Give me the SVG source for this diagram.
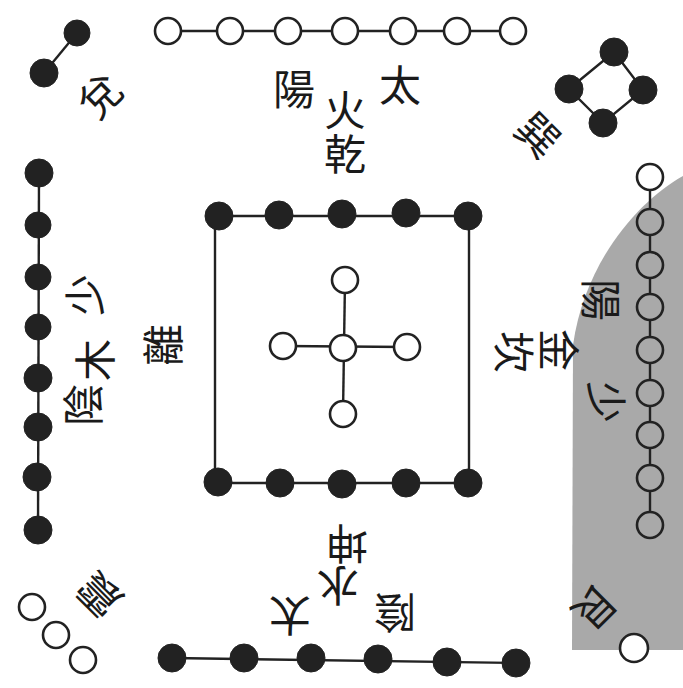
<svg xmlns="http://www.w3.org/2000/svg" width="683" height="688" viewBox="0 0 683 688">
<style>
.b{fill:#222;stroke:#222;stroke-width:1}
.w{fill:#fff;stroke:#222;stroke-width:2.6}
.wn{fill:none;stroke:#222;stroke-width:2.6}
.c{stroke:#222;stroke-width:2.4;fill:none}
.t{font-family:"Noto Sans CJK TC","Noto Sans CJK SC",serif;font-size:42px;fill:#1a1a1a;text-anchor:middle;dominant-baseline:central}
.v{font-family:"Noto Sans CJK TC","Noto Sans CJK SC",serif;font-size:42px;fill:#1a1a1a;writing-mode:vertical-rl;text-anchor:start;letter-spacing:2px}
</style>
<rect width="683" height="688" fill="#fff"/>
<path d="M683,176 C640,200 585,260 573,345 L572,650 L683,650 Z" fill="#a9a9a9"/>
<g id="connectors">
<line class="c" x1="77" y1="33" x2="44" y2="73"/>
<line class="c" x1="168" y1="31" x2="513" y2="31"/>
<path class="c" d="M569,89 L614,52 L643,90 L603,123 Z"/>
<line class="c" x1="39" y1="173" x2="38" y2="530"/>
<line class="c" x1="219" y1="216" x2="468" y2="216"/>
<line class="c" x1="218" y1="483" x2="468" y2="483"/>
<line class="c" x1="215" y1="216" x2="215" y2="483"/>
<line class="c" x1="469" y1="216" x2="469" y2="483"/>
<line class="c" x1="345" y1="280" x2="343" y2="414"/>
<line class="c" x1="283" y1="346" x2="407" y2="347"/>
<path class="c" d="M650,190 V209 M650,235 V252 M650,278 V294 M650,320 V337 M650,363 V380 M650,406 V422 M650,448 V465 M650,491 V512"/>
<line class="c" x1="172" y1="658" x2="516" y2="663"/>
</g>
<g id="dui"><circle class="b" cx="77" cy="33" r="13"/><circle class="b" cx="44" cy="73" r="14"/><text class="t" transform="translate(98,94) rotate(-45)">兌</text></g>
<g id="taiyang"><circle class="w" cx="168" cy="31" r="13"/><circle class="w" cx="230" cy="31" r="13"/><circle class="w" cx="288" cy="31" r="13"/><circle class="w" cx="345" cy="31" r="13"/><circle class="w" cx="403" cy="31" r="13"/><circle class="w" cx="457" cy="31" r="13"/><circle class="w" cx="513" cy="31" r="13"/>
<text class="t" x="294" y="86">陽</text><text class="t" x="400" y="82">太</text><text class="v" x="345" y="89">火乾</text></g>
<g id="xun"><circle class="b" cx="614" cy="52" r="14"/><circle class="b" cx="569" cy="89" r="14"/><circle class="b" cx="643" cy="90" r="14"/><circle class="b" cx="603" cy="123" r="14"/><text class="t" transform="translate(540,133) rotate(45)">巽</text></g>
<g id="shaoyin"><circle class="b" cx="39" cy="173" r="14"/><circle class="b" cx="38" cy="225" r="13"/><circle class="b" cx="38" cy="277" r="13"/><circle class="b" cx="38" cy="327" r="13"/><circle class="b" cx="38" cy="378" r="14"/><circle class="b" cx="38" cy="427" r="14"/><circle class="b" cx="37" cy="477" r="14"/><circle class="b" cx="38" cy="530" r="14"/>
<text class="t" transform="translate(82,295) rotate(-90)">少</text><text class="t" transform="translate(92,360) rotate(-90)">木</text><text class="t" transform="translate(160,345) rotate(-90)">離</text><text class="t" transform="translate(80,405) rotate(-90)">陰</text></g>
<g id="center"><circle class="b" cx="219" cy="216" r="14"/><circle class="b" cx="279" cy="215" r="14"/><circle class="b" cx="342" cy="214" r="14"/><circle class="b" cx="406" cy="213" r="14"/><circle class="b" cx="468" cy="216" r="14"/>
<circle class="b" cx="218" cy="482" r="14"/><circle class="b" cx="280" cy="483" r="14"/><circle class="b" cx="342" cy="484" r="14"/><circle class="b" cx="406" cy="483" r="14"/><circle class="b" cx="468" cy="483" r="14"/>
<circle class="w" cx="345" cy="280" r="13"/><circle class="w" cx="283" cy="346" r="13"/><circle class="w" cx="343" cy="348" r="13"/><circle class="w" cx="407" cy="347" r="13"/><circle class="w" cx="343" cy="414" r="13"/></g>
<g id="shaoyang"><circle class="wn" cx="650" cy="177" r="13"/><circle class="wn" cx="650" cy="222" r="13"/><circle class="wn" cx="650" cy="265" r="13"/><circle class="wn" cx="650" cy="307" r="13"/><circle class="wn" cx="650" cy="350" r="13"/><circle class="wn" cx="650" cy="393" r="13"/><circle class="wn" cx="650" cy="435" r="13"/><circle class="wn" cx="650" cy="478" r="13"/><circle class="wn" cx="650" cy="525" r="13"/>
<text class="t" transform="translate(603,300) rotate(90)">陽</text><text class="t" transform="translate(561,350) rotate(90)">金</text><text class="t" transform="translate(516,352) rotate(90)">坎</text><text class="t" transform="translate(608,402) rotate(90)">少</text></g>
<g id="zhen"><circle class="w" cx="32" cy="607" r="13"/><circle class="w" cx="56" cy="635" r="13"/><circle class="w" cx="83" cy="660" r="13"/><text class="t" transform="translate(97,597) rotate(-135)">震</text></g>
<g id="taiyin"><circle class="b" cx="172" cy="658" r="14"/><circle class="b" cx="244" cy="658" r="14"/><circle class="b" cx="311" cy="658" r="14"/><circle class="b" cx="378" cy="659" r="14"/><circle class="b" cx="447" cy="662" r="14"/><circle class="b" cx="516" cy="663" r="14"/>
<text class="t" transform="translate(347,546) rotate(180)">坤</text><text class="t" transform="translate(338,588) rotate(180)">水</text><text class="t" transform="translate(290,618) rotate(180)">太</text><text class="t" transform="translate(395,615) rotate(180)">陰</text></g>
<g id="gen"><circle class="w" cx="634" cy="648" r="14"/><text class="t" transform="translate(597,610) rotate(135)">艮</text></g>
</svg>
